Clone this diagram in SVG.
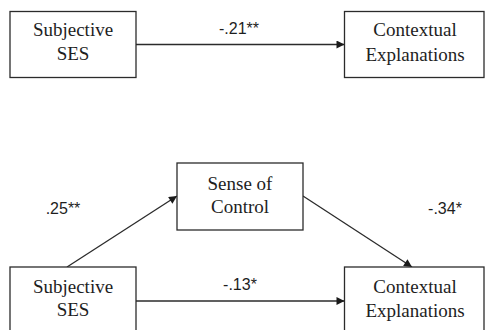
<svg xmlns="http://www.w3.org/2000/svg" width="485" height="330" viewBox="0 0 485 330">
<defs>
<style>
.box{fill:#fff;stroke:#2b2b2b;stroke-width:1.3}
.node{font-family:'Liberation Serif','Times New Roman',Times,serif;font-size:19px;fill:#1e1e1e;text-anchor:middle}
.lbl{font-family:'Liberation Sans',Arial,sans-serif;font-size:16px;fill:#1e1e1e;text-anchor:middle}
.edge{stroke:#2b2b2b;stroke-width:1.3;fill:none;marker-end:url(#ah)}
</style>
<marker id="ah" viewBox="0 0 10 10" refX="10" refY="5" markerWidth="10" markerHeight="8" markerUnits="userSpaceOnUse" orient="auto">
<path d="M0,0 L10,5 L0,10 z" fill="#1a1a1a"/>
</marker>
</defs>
<rect width="485" height="330" fill="#fff"/>
<g id="connectors">
<line class="edge" x1="136" y1="44.5" x2="344.5" y2="44.5"/>
<line class="edge" x1="67" y1="267" x2="177" y2="196"/>
<line class="edge" x1="303" y1="196" x2="412" y2="267"/>
<line class="edge" x1="136" y1="301" x2="344.5" y2="301"/>
</g>
<g id="labels">
<text class="lbl" x="239" y="34">-.21**</text>
<text class="lbl" x="63" y="214">.25**</text>
<text class="lbl" x="445" y="214">-.34*</text>
<text class="lbl" x="240" y="290">-.13*</text>
</g>
<g id="top-ses">
<rect class="box" x="10" y="11.5" width="126" height="66"/>
<text class="node" x="73" y="35.5">Subjective</text>
<text class="node" x="73" y="60">SES</text>
</g>
<g id="top-contextual">
<rect class="box" x="344.5" y="11.5" width="139.5" height="66"/>
<text class="node" x="415" y="36">Contextual</text>
<text class="node" x="415" y="61">Explanations</text>
</g>
<g id="sense-of-control">
<rect class="box" x="177" y="163" width="126" height="67"/>
<text class="node" x="240" y="189.5">Sense of</text>
<text class="node" x="240" y="213">Control</text>
</g>
<g id="bottom-ses">
<rect class="box" x="10" y="267" width="126" height="70"/>
<text class="node" x="73" y="292.5">Subjective</text>
<text class="node" x="73" y="316">SES</text>
</g>
<g id="bottom-contextual">
<rect class="box" x="344.5" y="267" width="139.5" height="70"/>
<text class="node" x="415" y="292.5">Contextual</text>
<text class="node" x="415" y="316.5">Explanations</text>
</g>
</svg>
